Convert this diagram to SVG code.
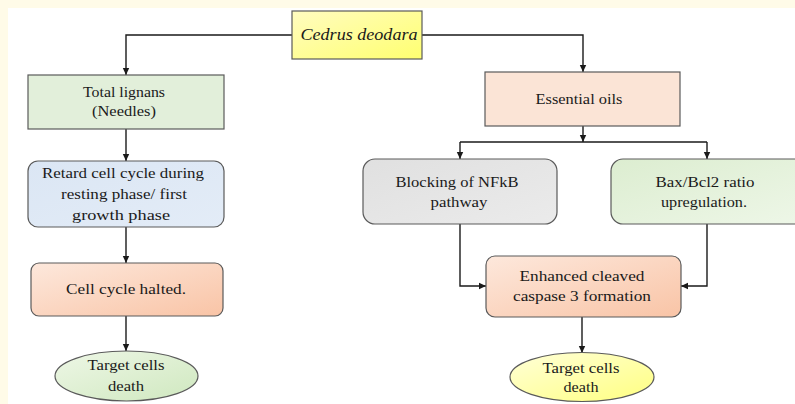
<svg xmlns="http://www.w3.org/2000/svg" width="795" height="404" viewBox="0 0 795 404">
<style>
  .box { stroke: #5a5a5a; stroke-width: 1.2; }
  .t { font-family: "Liberation Serif", "Times New Roman", serif; font-size: 15px; fill: #1a1a1a; text-anchor: middle; }
  .conn { fill: none; stroke: #1a1a1a; stroke-width: 1.4; }
</style>
<defs>
  <marker id="ah" markerWidth="8" markerHeight="8" refX="7" refY="4" orient="auto" markerUnits="userSpaceOnUse">
    <path d="M0,0.8 L7,4 L0,7.2 Z" fill="#1a1a1a"/>
  </marker>
  <linearGradient id="gYellow" x1="0" y1="0" x2="1" y2="1">
    <stop offset="0" stop-color="#fffcc0"/>
    <stop offset="1" stop-color="#ffff70"/>
  </linearGradient>
  <linearGradient id="gBlue" x1="0" y1="0" x2="1" y2="1">
    <stop offset="0" stop-color="#dbe6f4"/>
    <stop offset="1" stop-color="#e3ecf7"/>
  </linearGradient>
  <linearGradient id="gPeach" x1="0" y1="0" x2="1" y2="1">
    <stop offset="0" stop-color="#fde8dc"/>
    <stop offset="1" stop-color="#f9c4a6"/>
  </linearGradient>
  <linearGradient id="gGray" x1="0" y1="0" x2="1" y2="1">
    <stop offset="0" stop-color="#e0e0e0"/>
    <stop offset="1" stop-color="#ebebeb"/>
  </linearGradient>
  <linearGradient id="gGreen" x1="0" y1="0" x2="1" y2="1">
    <stop offset="0" stop-color="#dcedd0"/>
    <stop offset="1" stop-color="#eef7e8"/>
  </linearGradient>
  <linearGradient id="gGreenE" x1="0" y1="0" x2="1" y2="1">
    <stop offset="0" stop-color="#eef7e6"/>
    <stop offset="1" stop-color="#cfe8bf"/>
  </linearGradient>
  <linearGradient id="gYellowE" x1="0" y1="0" x2="1" y2="1">
    <stop offset="0" stop-color="#ffffd8"/>
    <stop offset="1" stop-color="#ffff80"/>
  </linearGradient>
</defs>
<rect x="0" y="0" width="795" height="404" fill="#fffbe8"/>
<rect x="8" y="8" width="787" height="396" fill="#ffffff"/>

<g id="connectors">
  <path class="conn" d="M292,35 H126 V75" marker-end="url(#ah)"/>
  <path class="conn" d="M422,35 H583 V72" marker-end="url(#ah)"/>
  <path class="conn" d="M126,129 V161" marker-end="url(#ah)"/>
  <path class="conn" d="M126,227 V263" marker-end="url(#ah)"/>
  <path class="conn" d="M126,316 V351" marker-end="url(#ah)"/>
  <path class="conn" d="M583,126 V142" marker-end="url(#ah)"/>
  <path class="conn" d="M460,142 H707"/>
  <path class="conn" d="M460,142 V159" marker-end="url(#ah)"/>
  <path class="conn" d="M707,142 V159" marker-end="url(#ah)"/>
  <path class="conn" d="M460,224 V286 H486" marker-end="url(#ah)"/>
  <path class="conn" d="M707,224 V286 H681" marker-end="url(#ah)"/>
  <path class="conn" d="M582,317 V353" marker-end="url(#ah)"/>
</g>

<g id="cedrus">
  <rect class="box" x="292" y="11" width="130" height="48" fill="url(#gYellow)"/>
  <text class="t" x="359" y="40" font-style="italic" style="font-size:16px" textLength="117" lengthAdjust="spacingAndGlyphs">Cedrus deodara</text>
</g>

<g id="lignans">
  <rect class="box" x="28" y="75" width="196" height="54" fill="#e2efda"/>
  <text class="t" x="124" y="97" textLength="82" lengthAdjust="spacingAndGlyphs">Total lignans</text>
  <text class="t" x="124" y="116" textLength="64" lengthAdjust="spacingAndGlyphs">(Needles)</text>
</g>

<g id="oils">
  <rect class="box" x="485" y="72" width="195" height="54" fill="#fbe4d6"/>
  <text class="t" x="579" y="104" textLength="87" lengthAdjust="spacingAndGlyphs">Essential oils</text>
</g>

<g id="retard">
  <rect class="box" x="28" y="161" width="196" height="66" rx="10" fill="url(#gBlue)"/>
  <text class="t" x="123" y="178" textLength="162" lengthAdjust="spacingAndGlyphs">Retard cell cycle during</text>
  <text class="t" x="124" y="199" textLength="126" lengthAdjust="spacingAndGlyphs">resting phase/ first</text>
  <text class="t" x="121" y="220" textLength="98" lengthAdjust="spacingAndGlyphs">growth phase</text>
</g>

<g id="halted">
  <rect class="box" x="31" y="263" width="192" height="53" rx="8" fill="url(#gPeach)"/>
  <text class="t" x="126" y="294" textLength="120" lengthAdjust="spacingAndGlyphs">Cell cycle halted.</text>
</g>

<g id="death-left">
  <ellipse class="box" cx="126.5" cy="376" rx="71.5" ry="25" fill="url(#gGreenE)"/>
  <text class="t" x="126" y="370" textLength="77" lengthAdjust="spacingAndGlyphs">Target cells</text>
  <text class="t" x="126" y="391" textLength="36" lengthAdjust="spacingAndGlyphs">death</text>
</g>

<g id="nfkb">
  <rect class="box" x="363" y="159" width="194" height="65" rx="12" fill="url(#gGray)"/>
  <text class="t" x="457" y="187" textLength="123" lengthAdjust="spacingAndGlyphs">Blocking of NFkB</text>
  <text class="t" x="459" y="207" textLength="57" lengthAdjust="spacingAndGlyphs">pathway</text>
</g>

<g id="bax">
  <rect class="box" x="611" y="159" width="200" height="65" rx="12" fill="url(#gGreen)"/>
  <text class="t" x="705" y="187" textLength="99" lengthAdjust="spacingAndGlyphs">Bax/Bcl2 ratio</text>
  <text class="t" x="704" y="207" textLength="86" lengthAdjust="spacingAndGlyphs">upregulation.</text>
</g>

<g id="caspase">
  <rect class="box" x="486" y="256" width="195" height="61" rx="9" fill="url(#gPeach)"/>
  <text class="t" x="582" y="281" textLength="125" lengthAdjust="spacingAndGlyphs">Enhanced cleaved</text>
  <text class="t" x="582" y="301" textLength="138" lengthAdjust="spacingAndGlyphs">caspase 3 formation</text>
</g>

<g id="death-right">
  <ellipse class="box" cx="582" cy="377" rx="72" ry="24.5" fill="url(#gYellowE)"/>
  <text class="t" x="581" y="373" textLength="77" lengthAdjust="spacingAndGlyphs">Target cells</text>
  <text class="t" x="581" y="392" textLength="35" lengthAdjust="spacingAndGlyphs">death</text>
</g>
</svg>
